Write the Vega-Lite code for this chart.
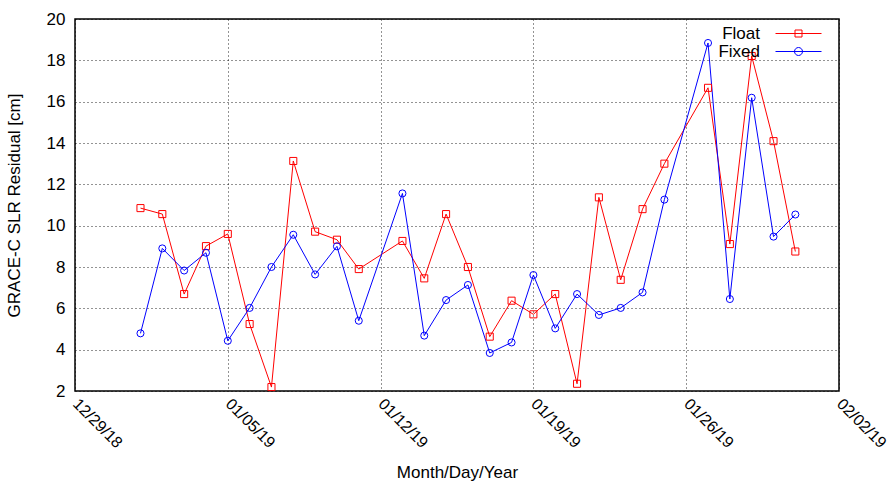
{
  "$schema": "https://vega.github.io/schema/vega-lite/v6.json",
  "width": 764,
  "height": 372,
  "autosize": {"type": "none"},
  "padding": {"left": 75, "top": 19, "right": 54, "bottom": 92},
  "background": "white",
  "config": {
    "font": "Liberation Sans",
    "view": {"stroke": "black", "strokeWidth": 1.5},
    "axis": {
      "labelFont": "Liberation Sans", "titleFont": "Liberation Sans",
      "labelFontSize": 17, "titleFontSize": 17, "titleFontWeight": "normal",
      "labelColor": "black", "titleColor": "black",
      "domain": false, "ticks": false,
      "grid": true, "gridColor": "black", "gridDash": [1, 3], "gridWidth": 1, "gridOpacity": 0.85
    }
  },
  "data": {"values": [
    {"date": "2019-01-01", "series": "Float", "value": 10.85},
    {"date": "2019-01-02", "series": "Float", "value": 10.56},
    {"date": "2019-01-03", "series": "Float", "value": 6.69},
    {"date": "2019-01-04", "series": "Float", "value": 9.01},
    {"date": "2019-01-05", "series": "Float", "value": 9.6},
    {"date": "2019-01-06", "series": "Float", "value": 5.24},
    {"date": "2019-01-07", "series": "Float", "value": 2.19},
    {"date": "2019-01-08", "series": "Float", "value": 13.13},
    {"date": "2019-01-09", "series": "Float", "value": 9.71},
    {"date": "2019-01-10", "series": "Float", "value": 9.32},
    {"date": "2019-01-11", "series": "Float", "value": 7.9},
    {"date": "2019-01-13", "series": "Float", "value": 9.26},
    {"date": "2019-01-14", "series": "Float", "value": 7.45},
    {"date": "2019-01-15", "series": "Float", "value": 10.56},
    {"date": "2019-01-16", "series": "Float", "value": 8.0},
    {"date": "2019-01-17", "series": "Float", "value": 4.63},
    {"date": "2019-01-18", "series": "Float", "value": 6.37},
    {"date": "2019-01-19", "series": "Float", "value": 5.71},
    {"date": "2019-01-20", "series": "Float", "value": 6.69},
    {"date": "2019-01-21", "series": "Float", "value": 2.35},
    {"date": "2019-01-22", "series": "Float", "value": 11.37},
    {"date": "2019-01-23", "series": "Float", "value": 7.38},
    {"date": "2019-01-24", "series": "Float", "value": 10.8},
    {"date": "2019-01-25", "series": "Float", "value": 13.0},
    {"date": "2019-01-27", "series": "Float", "value": 16.67},
    {"date": "2019-01-28", "series": "Float", "value": 9.11},
    {"date": "2019-01-29", "series": "Float", "value": 18.21},
    {"date": "2019-01-30", "series": "Float", "value": 14.09},
    {"date": "2019-01-31", "series": "Float", "value": 8.75},
    {"date": "2019-01-01", "series": "Fixed", "value": 4.79},
    {"date": "2019-01-02", "series": "Fixed", "value": 8.9},
    {"date": "2019-01-03", "series": "Fixed", "value": 7.83},
    {"date": "2019-01-04", "series": "Fixed", "value": 8.69},
    {"date": "2019-01-05", "series": "Fixed", "value": 4.43},
    {"date": "2019-01-06", "series": "Fixed", "value": 6.02},
    {"date": "2019-01-07", "series": "Fixed", "value": 8.0},
    {"date": "2019-01-08", "series": "Fixed", "value": 9.56},
    {"date": "2019-01-09", "series": "Fixed", "value": 7.64},
    {"date": "2019-01-10", "series": "Fixed", "value": 9.0},
    {"date": "2019-01-11", "series": "Fixed", "value": 5.4},
    {"date": "2019-01-13", "series": "Fixed", "value": 11.56},
    {"date": "2019-01-14", "series": "Fixed", "value": 4.68},
    {"date": "2019-01-15", "series": "Fixed", "value": 6.4},
    {"date": "2019-01-16", "series": "Fixed", "value": 7.13},
    {"date": "2019-01-17", "series": "Fixed", "value": 3.84},
    {"date": "2019-01-18", "series": "Fixed", "value": 4.35},
    {"date": "2019-01-19", "series": "Fixed", "value": 7.61},
    {"date": "2019-01-20", "series": "Fixed", "value": 5.03},
    {"date": "2019-01-21", "series": "Fixed", "value": 6.69},
    {"date": "2019-01-22", "series": "Fixed", "value": 5.68},
    {"date": "2019-01-23", "series": "Fixed", "value": 6.02},
    {"date": "2019-01-24", "series": "Fixed", "value": 6.77},
    {"date": "2019-01-25", "series": "Fixed", "value": 11.26},
    {"date": "2019-01-27", "series": "Fixed", "value": 18.84},
    {"date": "2019-01-28", "series": "Fixed", "value": 6.45},
    {"date": "2019-01-29", "series": "Fixed", "value": 16.19},
    {"date": "2019-01-30", "series": "Fixed", "value": 9.47},
    {"date": "2019-01-31", "series": "Fixed", "value": 10.54}
  ]},
  "encoding": {
    "x": {
      "field": "date", "type": "temporal",
      "scale": {"type": "utc", "domain": [{"year": 2018, "month": 12, "date": 29, "utc": true}, {"year": 2019, "month": 2, "date": 2, "utc": true}]},
      "axis": {
        "title": "Month/Day/Year",
        "labelExpr": "utcFormat(datum.value, '%m/%d/%y')",
        "values": [
          {"year": 2018, "month": 12, "date": 29, "utc": true},
          {"year": 2019, "month": 1, "date": 5, "utc": true},
          {"year": 2019, "month": 1, "date": 12, "utc": true},
          {"year": 2019, "month": 1, "date": 19, "utc": true},
          {"year": 2019, "month": 1, "date": 26, "utc": true},
          {"year": 2019, "month": 2, "date": 2, "utc": true}
        ],
        "labelFontSize": 16,
        "labelAngle": 45, "labelAlign": "left", "labelBaseline": "middle",
        "labelPadding": 10, "titlePadding": 14, "labelFlush": false, "labelOverlap": false
      }
    },
    "y": {
      "field": "value", "type": "quantitative",
      "scale": {"domain": [2, 20], "nice": false, "zero": false},
      "axis": {
        "title": "GRACE-C SLR Residual [cm]",
        "values": [2, 4, 6, 8, 10, 12, 14, 16, 18, 20],
        "labelPadding": 10, "titlePadding": 23, "labelFlush": false
      }
    },
    "color": {
      "field": "series", "type": "nominal",
      "scale": {"domain": ["Float", "Fixed"], "range": ["#ff0000", "#0000ff"]},
      "legend": {
        "title": null, "orient": "none", "legendX": 715, "legendY": 6,
        "labelFontSize": 17, "labelFont": "Liberation Sans", "labelColor": "black",
        "symbolSize": 100, "symbolStrokeWidth": 1, "rowPadding": 0, "padding": 0,
        "encode": {
          "symbols": {"update": {
            "shape": {"signal": "datum.value === 'Float' ? 'M-4.6,0H4.6M-0.7,-0.7H0.7V0.7H-0.7Z' : 'M-4.6,0H4.6M-0.8,0A0.8,0.8 0 1,0 0.8,0A0.8,0.8 0 1,0 -0.8,0'"},
            "fill": {"value": "transparent"}
          }},
          "labels": {"update": {"align": {"value": "right"}, "x": {"value": -30}}}
        }
      }
    }
  },
  "layer": [
    {"mark": {"type": "line", "strokeWidth": 1}},
    {
      "transform": [{"filter": "datum.series === 'Float'"}],
      "mark": {"type": "point", "shape": "square", "filled": false, "strokeWidth": 1, "size": 50, "opacity": 1}
    },
    {
      "transform": [{"filter": "datum.series === 'Fixed'"}],
      "mark": {"type": "point", "shape": "circle", "filled": false, "strokeWidth": 1, "size": 50, "opacity": 1}
    }
  ]
}
